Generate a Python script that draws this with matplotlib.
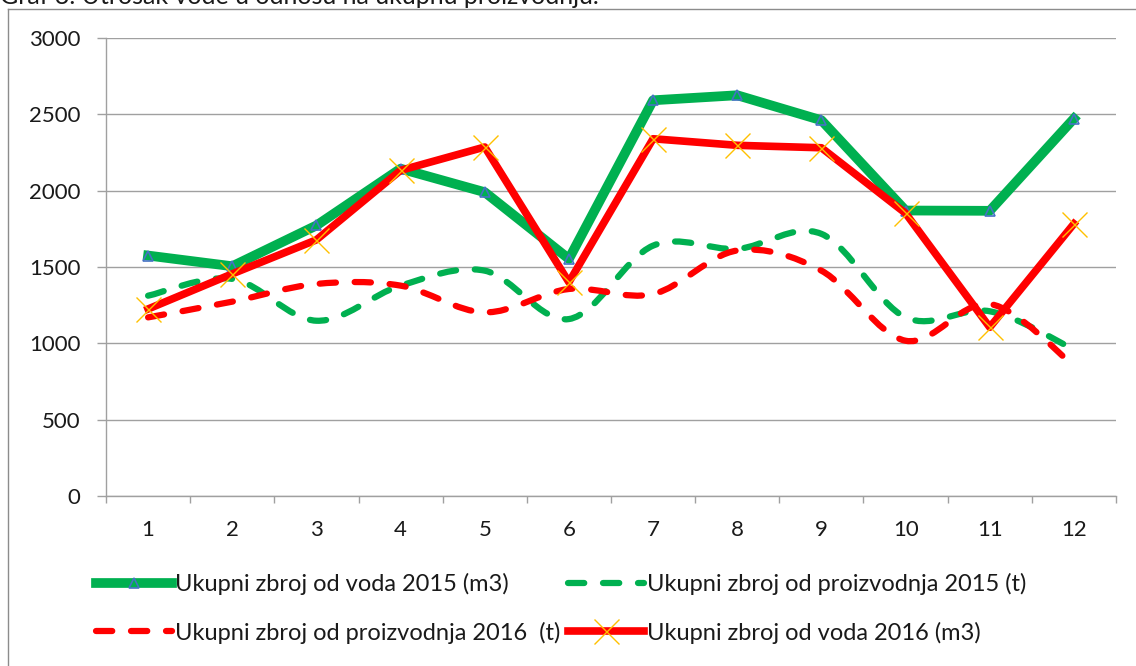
import numpy as np
import matplotlib
matplotlib.use('Agg')
import matplotlib.pyplot as plt
from matplotlib.path import Path
from matplotlib.patches import PathPatch
from matplotlib.lines import Line2D

plt.rcParams['font.family'] = ['Lato', 'DejaVu Sans']

# podaci po mjesecima (očitano s grafa)
mjeseci = list(range(1, 13))
voda_2015 = [1575, 1505, 1772, 2144, 1990, 1553, 2592, 2625, 2461, 1870, 1868, 2472]
proizvodnja_2015 = [1312, 1422, 1148, 1378, 1476, 1159, 1640, 1619, 1717, 1170, 1210, 960]
proizvodnja_2016 = [1170, 1273, 1389, 1378, 1203, 1356, 1323, 1608, 1476, 1017, 1258, 853]
voda_2016 = [1225, 1455, 1678, 2133, 2286, 1400, 2340, 2297, 2281, 1852, 1105, 1783]

oznake = ['Ukupni zbroj od voda 2015 (m3)',
          'Ukupni zbroj od proizvodnja 2015 (t)',
          'Ukupni zbroj od proizvodnja 2016  (t)',
          'Ukupni zbroj od voda 2016 (m3)']

ZELENA = '#00B050'
CRVENA = '#FF0000'
SIVA = '#A0A0A0'
TEKST = '#1a1a1a'
CRTKANO = (0, (2.6, 3.0))


def glatka_putanja(x, y):
    # Bezier krivulja kroz točke (kao "smoothed line" u Excelu)
    t = np.column_stack([np.asarray(x, float), np.asarray(y, float)])
    n = len(t)
    verts = [t[0]]
    codes = [Path.MOVETO]
    for i in range(n - 1):
        p0 = t[max(i - 1, 0)]
        p1 = t[i]
        p2 = t[i + 1]
        p3 = t[min(i + 2, n - 1)]
        verts += [p1 + (p2 - p0) / 6, p2 - (p3 - p1) / 6, p2]
        codes += [Path.CURVE4] * 3
    return Path(verts, codes)


fig = plt.figure(figsize=(11.36, 6.66), dpi=100)
ax = fig.add_axes([106 / 1136, 1 - 496 / 666, 1010 / 1136, 458 / 666])

# serije
ax.plot(mjeseci, voda_2015, color=ZELENA, lw=7, zorder=2,
        marker='^', ms=7, mfc='none', mec='#4472C4', mew=1.2)
ax.add_patch(PathPatch(glatka_putanja(mjeseci, proizvodnja_2015), fill=False,
                       edgecolor=ZELENA, lw=4.5, linestyle=CRTKANO,
                       capstyle='round', joinstyle='round', zorder=3))
ax.add_patch(PathPatch(glatka_putanja(mjeseci, proizvodnja_2016), fill=False,
                       edgecolor=CRVENA, lw=4.5, linestyle=CRTKANO,
                       capstyle='round', joinstyle='round', zorder=4))
ax.plot(mjeseci, voda_2016, color=CRVENA, lw=5.5, zorder=5,
        marker='x', ms=18, mec='#FFC000', mew=1)

ax.set_xlim(0.5, 12.5)
ax.set_ylim(0, 3000)
ax.set_yticks(range(0, 3001, 500))
ax.set_xticks(mjeseci)
ax.set_xticks(np.arange(0.5, 12.6, 1), minor=True)
ax.tick_params(axis='x', which='major', length=0, pad=17, labelsize=16, labelcolor=TEKST)
ax.tick_params(axis='x', which='minor', length=5, color=SIVA, width=1)
ax.tick_params(axis='y', length=6.5, color=SIVA, width=1, pad=12, labelsize=16, labelcolor=TEKST)

ax.grid(axis='y', color=SIVA, lw=1)
ax.set_axisbelow(True)
for s in ['top', 'right']:
    ax.spines[s].set_visible(False)
for s in ['left', 'bottom']:
    ax.spines[s].set_color(SIVA)
    ax.spines[s].set_linewidth(1)

# legenda (2 reda x 2 stupca)
h_voda15 = Line2D([], [], color=ZELENA, lw=7, marker='^', ms=7, mfc='none',
                  mec='#4472C4', mew=1.2)
h_pro15 = Line2D([], [], color=ZELENA, lw=4.5, linestyle=CRTKANO, dash_capstyle='round')
h_pro16 = Line2D([], [], color=CRVENA, lw=4.5, linestyle=CRTKANO, dash_capstyle='round')
h_voda16 = Line2D([], [], color=CRVENA, lw=5.5, marker='x', ms=18, mec='#FFC000', mew=1)
fig.legend([h_voda15, h_pro16, h_pro15, h_voda16],
           [oznake[0], oznake[2], oznake[1], oznake[3]],
           ncol=2, loc='upper left', bbox_to_anchor=(96 / 1136, 1 - 573 / 666),
           frameon=False, fontsize=17, handlelength=3.2, handletextpad=0.13,
           columnspacing=0.35, labelspacing=1.12, borderpad=0, borderaxespad=0,
           numpoints=1, labelcolor=TEKST)

# okvir grafikona i odrezani naslov
fig.add_artist(Line2D([8 / 1136, 8 / 1136], [-0.1, 1 - 9 / 666],
                      transform=fig.transFigure, color='#8c8c8c', lw=1))
fig.add_artist(Line2D([8 / 1136, 1.1], [1 - 9 / 666, 1 - 9 / 666],
                      transform=fig.transFigure, color='#8c8c8c', lw=1))
fig.text(0, 1 - 4 / 666, 'Graf 3. Utrošak vode u odnosu na ukupnu proizvodnju.',
         fontsize=18, color=TEKST, va='baseline', ha='left')

fig.savefig('out.png', dpi=100)
